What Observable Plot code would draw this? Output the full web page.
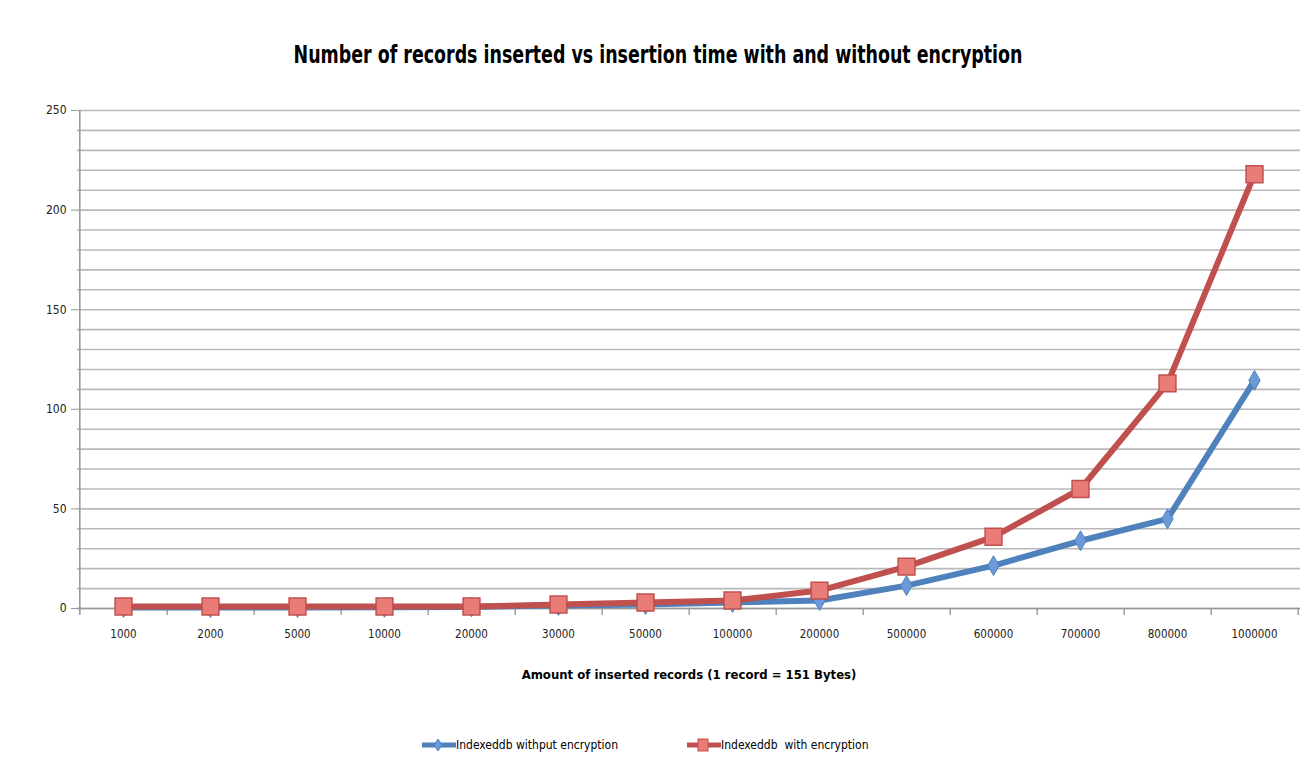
<!DOCTYPE html>
<html>
<head>
<meta charset="utf-8">
<script src="https://cdn.jsdelivr.net/npm/d3@7"></script>
<script src="https://cdn.jsdelivr.net/npm/@observablehq/plot@0.6"></script>
<style>
  body { margin: 0; background: #fff; font-family: "Liberation Sans Narrow", "DejaVu Sans Condensed", sans-serif; }
  #title { height: 90px; position: relative; }
  #title div { position: absolute; left: 0; right: 0; top: 40px; text-align: center; font-size: 25px; font-weight: bold; color: #000; transform: scaleX(0.775); }
  #chart svg { display: block; }
  #chart g[aria-label="x-axis label"] text { font-weight: bold; font-size: 13px; fill: #000; }
  #legend { position: relative; height: 60px; font-size: 12px; color: #000; }
  .item { position: absolute; top: 36px; display: flex; align-items: center; white-space: pre; }
  .item svg { display: block; }
</style>
</head>
<body>
<div id="title"><div>Number of records inserted vs insertion time with and without encryption</div></div>
<div id="chart"></div>
<div id="legend"></div>
<script>
const categories = ["1000","2000","5000","10000","20000","30000","50000","100000","200000","500000","600000","700000","800000","1000000"];
const withoutEncryption = [0.5, 0.5, 0.5, 0.6, 0.8, 1.5, 2, 3, 4, 11.5, 21.5, 34, 45, 114.5];
const withEncryption = [1, 1, 1, 1, 1, 2, 3, 4, 9, 21, 36, 60, 113, 218];
const seriesNames = ["Indexeddb withput encryption", "Indexeddb  with encryption"];
const yTickLabels = [0, 50, 100, 150, 200, 250];
const xTitle = "Amount of inserted records (1 record = 151 Bytes)";

const blue = "#4f81bd", red = "#c0504d";
const rows = categories.map((c, i) => ({cat: c, value: withoutEncryption[i], series: seriesNames[0]}));
const rowsRed = categories.map((c, i) => ({cat: c, value: withEncryption[i], series: seriesNames[1]}));

const W = 1316, H = 610, mL = 77, mR = 16, mT = 20, mB = 92;
const step = (W - mL - mR) / categories.length;

const plot = Plot.plot({
  width: W, height: H,
  marginLeft: mL, marginRight: mR, marginTop: mT, marginBottom: mB,
  style: {fontFamily: '"Liberation Sans Narrow", "DejaVu Sans Condensed", sans-serif', background: "#fff"},
  x: {type: "point", domain: categories, padding: 0.5},
  y: {domain: [0, 250]},
  marks: [
    Plot.gridY({ticks: 25, stroke: "#b8b8b8", strokeOpacity: 1, strokeWidth: 1.6}),
    Plot.ruleY([0], {stroke: "#999", strokeWidth: 1.6}),
    Plot.ruleX(categories, {x: d => d, y1: 0, y2: -3.5, dx: step / 2, stroke: "#999", strokeWidth: 1.4}),
    Plot.ruleX([categories[0]], {x: d => d, y1: -3.5, y2: 250, dx: -step / 2, stroke: "#999", strokeWidth: 1.6}),
    Plot.axisY({ticks: yTickLabels, tickSize: 6, tickPadding: 5, fontSize: 12, stroke: "#999", color: "#222", label: null}),
    Plot.axisX({tickSize: 0, tickPadding: 21, fontSize: 11.5, color: "#222", label: xTitle, labelAnchor: "center", labelArrow: "none", labelOffset: 70}),
    Plot.line(rows, {x: "cat", y: "value", stroke: blue, strokeWidth: 6, strokeLinejoin: "round"}),
    Plot.dot(rows, {x: "cat", y: "value", symbol: "diamond", r: 6, fill: "#6a9bd8", stroke: blue, strokeWidth: 1}),
    Plot.line(rowsRed, {x: "cat", y: "value", stroke: red, strokeWidth: 6, strokeLinejoin: "round"}),
    Plot.dot(rowsRed, {x: "cat", y: "value", symbol: "square", r: 9.5, fill: "#ea7c78", stroke: red, strokeWidth: 1.5})
  ]
});
document.getElementById("chart").appendChild(plot);

// legend
const legend = document.getElementById("legend");
function addItem(left, color, fillc, shape, text) {
  const item = document.createElement("div");
  item.className = "item";
  item.style.left = left + "px";
  const ns = "http://www.w3.org/2000/svg";
  const s = document.createElementNS(ns, "svg");
  s.setAttribute("width", 36); s.setAttribute("height", 18);
  const l = document.createElementNS(ns, "line");
  l.setAttribute("x1", 2); l.setAttribute("x2", 36); l.setAttribute("y1", 9); l.setAttribute("y2", 9);
  l.setAttribute("stroke", color); l.setAttribute("stroke-width", 5);
  s.appendChild(l);
  let m;
  if (shape === "square") {
    m = document.createElementNS(ns, "rect");
    m.setAttribute("x", 13); m.setAttribute("y", 3); m.setAttribute("width", 10); m.setAttribute("height", 12);
  } else {
    m = document.createElementNS(ns, "path");
    m.setAttribute("d", "M18,3 L22,9 L18,15 L14,9 Z");
  }
  m.setAttribute("fill", fillc); m.setAttribute("stroke", color);
  s.appendChild(m);
  item.appendChild(s);
  const t = document.createElement("span");
  t.textContent = text;
  item.appendChild(t);
  legend.appendChild(item);
}
addItem(420, blue, "#6a9bd8", "diamond", seriesNames[0]);
addItem(685, red, "#ea7c78", "square", seriesNames[1]);
</script>
</body>
</html>
